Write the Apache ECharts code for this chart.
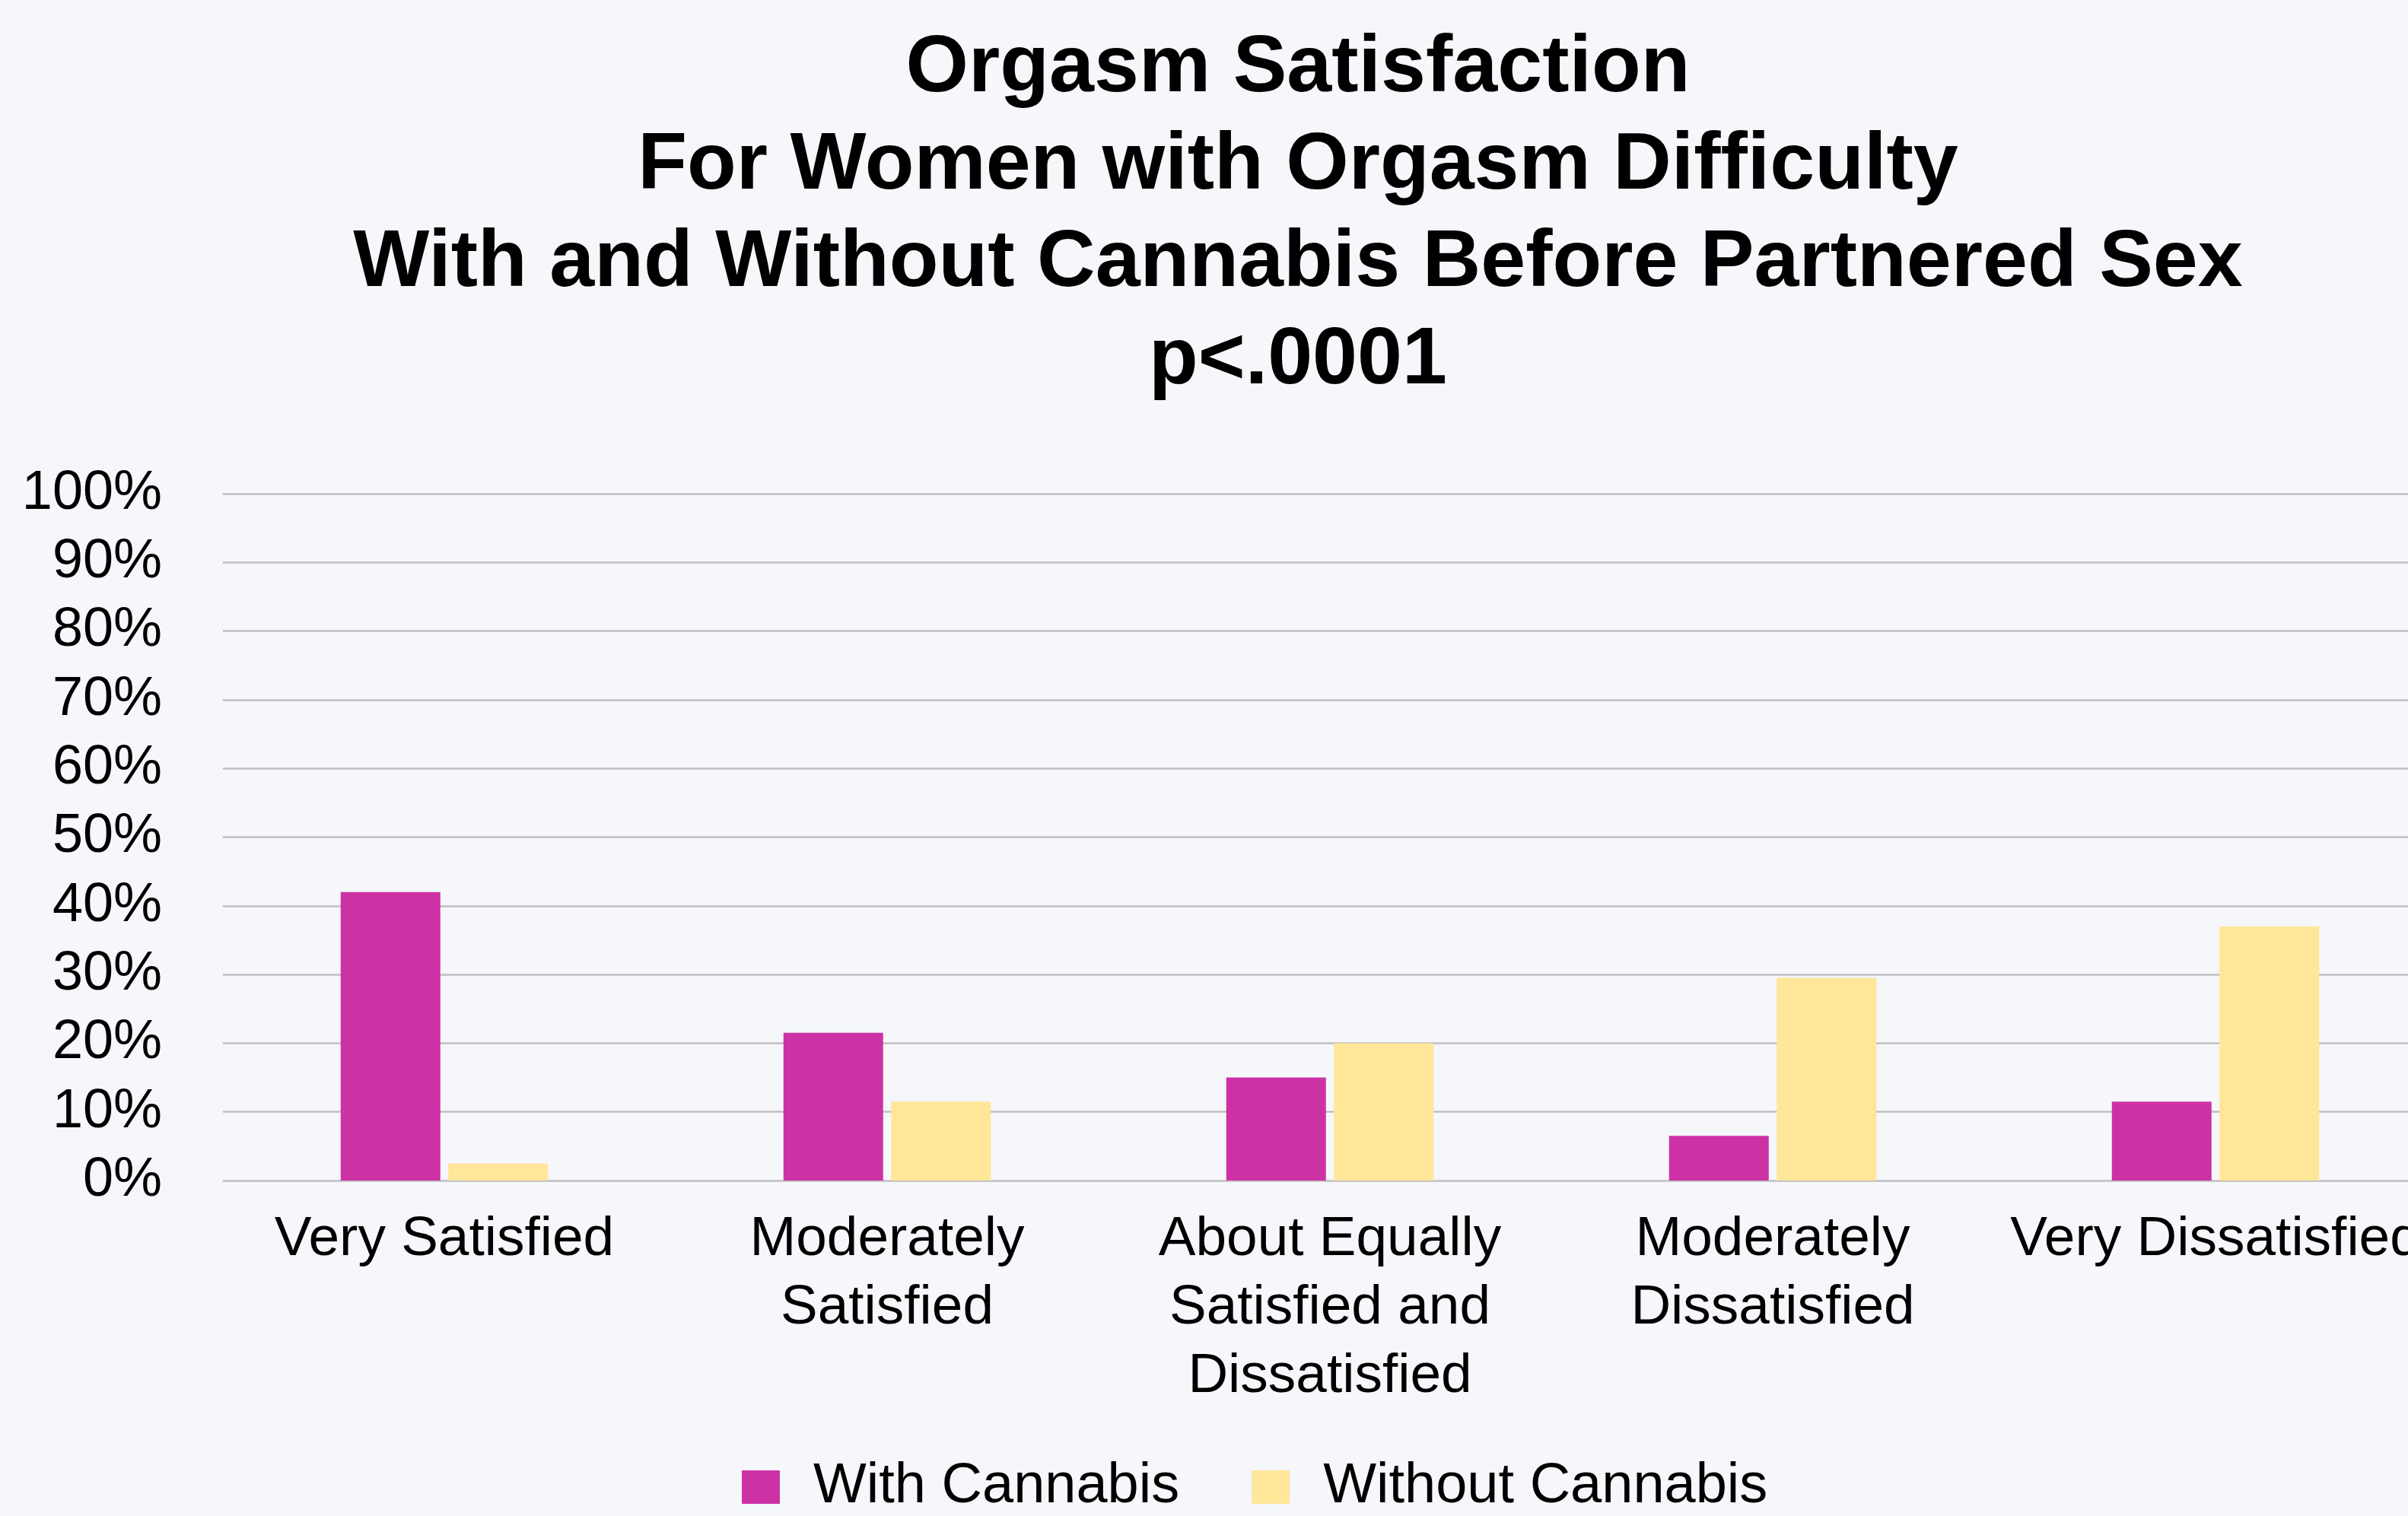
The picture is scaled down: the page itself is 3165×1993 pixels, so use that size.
<!DOCTYPE html>
<html>
<head>
<meta charset="utf-8">
<title>Orgasm Satisfaction</title>
<script src="https://cdn.jsdelivr.net/npm/echarts@6/dist/echarts.min.js"></script>
<style>
  html, body { margin: 0; padding: 0; overflow: hidden; background: #f5f7fb; }
  #chart { width: 3210px; height: 1993px; }
</style>
</head>
<body>
<div id="chart"></div>
<script>
// Response categories (x axis)
const categories = [
  'Very Satisfied',
  'Moderately\nSatisfied',
  'About Equally\nSatisfied and\nDissatisfied',
  'Moderately\nDissatisfied',
  'Very Dissatisfied'
];

// Percent of respondents in each category
const withCannabis = [42, 21.5, 15, 6.5, 11.5];
const withoutCannabis = [2.5, 11.5, 20, 29.5, 37];

const seriesNames = ['With Cannabis', 'Without Cannabis'];

const titleLines = [
  'Orgasm Satisfaction',
  'For Women with Orgasm Difficulty',
  'With and Without Cannabis Before Partnered Sex',
  'p<.0001'
];

const FONT = '"Liberation Sans", Arial, Helvetica, sans-serif';

const chart = echarts.init(document.getElementById('chart'), null, { renderer: 'canvas' });

chart.setOption({
  backgroundColor: '#f5f7fb',
  animation: false,
  color: ['#cd32a5', '#ffe699'],
  title: {
    text: titleLines.join('\n'),
    left: 1706,
    top: 27,
    padding: 0,
    textAlign: 'center',
    textStyle: {
      fontFamily: FONT,
      fontWeight: 'bold',
      fontSize: 106,
      lineHeight: 128,
      color: '#000000'
    }
  },
  legend: {
    data: seriesNames,
    left: 975,
    top: 1912,
    padding: 0,
    itemWidth: 50,
    itemHeight: 44,
    itemGap: 95,
    icon: 'rect',
    textStyle: {
      fontFamily: FONT,
      fontSize: 74,
      lineHeight: 86,
      color: '#000000',
      padding: [0, 0, 0, 39]
    }
  },
  grid: {
    left: 293,
    right: 7,
    top: 649,
    bottom: 441,
    containLabel: false
  },
  xAxis: {
    type: 'category',
    data: categories,
    axisLine: { show: false },
    axisTick: { show: false },
    axisLabel: {
      fontFamily: FONT,
      fontSize: 73,
      lineHeight: 90,
      color: '#000000',
      margin: 33,
      interval: 0,
      verticalAlign: 'top'
    }
  },
  yAxis: {
    type: 'value',
    min: 0,
    max: 100,
    interval: 10,
    axisLine: { show: false },
    axisTick: { show: false },
    axisLabel: {
      fontFamily: FONT,
      fontSize: 72,
      color: '#000000',
      margin: 80,
      formatter: '{value}%'
    },
    splitLine: {
      lineStyle: { color: '#bfbfbf', width: 2.5 }
    }
  },
  series: [
    {
      name: seriesNames[0],
      type: 'bar',
      data: withCannabis,
      barWidth: 131,
      barGap: '8%'
    },
    {
      name: seriesNames[1],
      type: 'bar',
      data: withoutCannabis,
      barWidth: 131,
      barGap: '8%'
    }
  ]
});
</script>
</body>
</html>
